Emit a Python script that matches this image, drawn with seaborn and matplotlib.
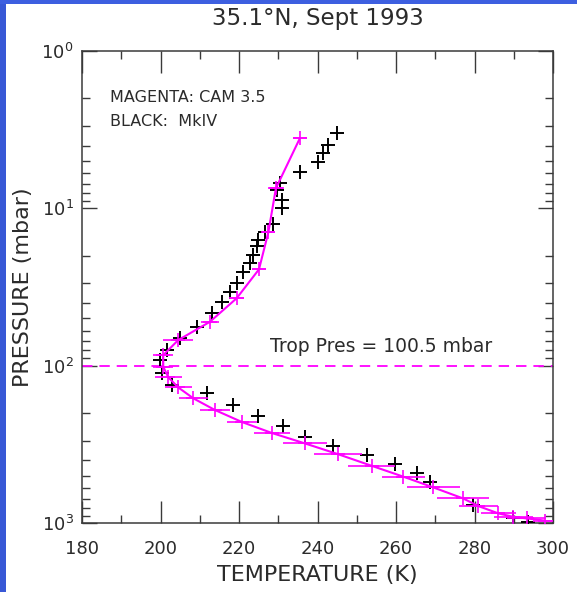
import numpy as np
import pandas as pd
import matplotlib
matplotlib.use("Agg")
import matplotlib.pyplot as plt
from matplotlib.patches import Rectangle
from matplotlib.ticker import LogLocator, MultipleLocator, NullFormatter
import seaborn as sns

# CAM 3.5 profile (magenta): temperature (K), pressure (mbar), half-width of horizontal bar (K)
cam_T = [235.5, 229.4, 227.5, 225.1, 219.4, 212.6, 204.5, 200.7, 200.7, 202.0, 204.5, 208.4,
         213.9, 220.8, 228.4, 236.8, 245.2, 253.8, 261.9, 269.5, 277.1, 281.0, 286.1, 289.9,
         293.3, 298.0]
cam_P = [3.59, 7.46, 14.1, 24.4, 37.3, 52.6, 68.8, 85.7, 101.6, 118.7, 137.4, 161.5,
         191.5, 228.4, 268, 312, 365, 433, 508, 594, 698, 781, 869, 914,
         935, 966]
cam_err = [1.8, 2.0, 1.7, 1.9, 1.9, 2.3, 3.8, 2.6, 2.6, 3.4, 3.4, 3.8,
           3.8, 3.8, 4.7, 5.5, 6.2, 6.0, 5.5, 6.8, 6.6, 5.0, 4.5, 5.0,
           5.0, 3.0]

# MkIV balloon profile (black)
mk_T = [244.9, 242.8, 241.5, 240.2, 235.5, 230.4, 229.6, 230.9, 230.9, 228.7, 226.6, 224.9,
        224.5, 223.6, 222.8, 221.1, 219.4, 217.7, 215.6, 213.0, 209.2, 205.0, 201.6, 199.9,
        200.3, 202.9, 211.8, 218.5, 224.9, 231.3, 236.8, 244.0, 252.6, 259.7, 265.3, 268.7,
        279.7, 289.9, 293.7]
mk_P = [3.34, 3.96, 4.47, 5.06, 5.85, 6.94, 7.65, 8.85, 10.0, 12.5, 14.1, 15.9,
        17.4, 19.8, 22.4, 25.3, 30.0, 33.9, 39.2, 46.5, 56.6, 67.1, 79.6, 92.1,
        112, 133, 150, 179, 209, 242, 283, 324, 370, 423, 484, 547,
        769, 935, 983]

trop_pres = 100.5
x_ticks = [180, 200, 220, 240, 260, 280, 300]

title = "35.1°N, Sept 1993"
xlabel = "TEMPERATURE (K)"
ylabel = "PRESSURE (mbar)"
legend_lines = ["MAGENTA: CAM 3.5", "BLACK:  MkIV"]
trop_text = f"Trop Pres = {trop_pres} mbar"

MAG = "#ff00ff"
TXT = "#2b2b2b"

sns.set_theme(style="ticks")
plt.rcParams["font.family"] = ["DejaVu Sans"]
plt.rcParams["lines.scale_dashes"] = False

W, H = 577, 592
fig = plt.figure(figsize=(W / 100, H / 100), dpi=100)
fig.patch.set_facecolor("white")

left, right, top, bottom = 82, 553, 51, 523
ax = fig.add_axes([left / W, 1 - bottom / H, (right - left) / W, (bottom - top) / H])
ax.set_facecolor("white")

cam = pd.DataFrame({"T": cam_T, "P": cam_P, "err": cam_err})
mk = pd.DataFrame({"T": mk_T, "P": mk_P})

# dashed tropopause line
ax.axhline(trop_pres, color=MAG, lw=1.3, ls=(0, (7.5, 5.0)), zorder=1)

# black MkIV crosses
sns.scatterplot(data=mk, x="T", y="P", marker="+", s=110, color="black",
                linewidth=1.4, ax=ax, zorder=3, legend=False)

# magenta CAM line + bars
ax.errorbar(cam["T"], cam["P"], xerr=cam["err"], fmt="none", ecolor=MAG,
            elinewidth=1.2, capsize=0, zorder=4)
sns.lineplot(data=cam, x="T", y="P", sort=False, estimator=None, color=MAG,
             lw=1.5, marker="+", markersize=10, markeredgewidth=1.2,
             markeredgecolor=MAG, ax=ax, zorder=5, legend=False)

ax.set_yscale("log")
ax.set_ylim(1000, 1)
ax.set_xlim(180, 300)
ax.set_xticks(x_ticks)
ax.xaxis.set_minor_locator(MultipleLocator(10))
ax.yaxis.set_major_locator(LogLocator(base=10, numticks=10))
ax.yaxis.set_minor_locator(LogLocator(base=10, subs=np.arange(2, 10), numticks=20))
ax.yaxis.set_minor_formatter(NullFormatter())

for s in ax.spines.values():
    s.set_visible(True)
    s.set_color("#3a3a3a")
    s.set_linewidth(1.1)

ax.tick_params(axis="x", which="major", direction="in", length=16, width=1.0,
               top=True, bottom=True, color="#3a3a3a", labelsize=13, labelcolor=TXT, pad=12)
ax.tick_params(axis="x", which="minor", direction="in", length=6, width=1.0,
               top=True, bottom=True, color="#3a3a3a")
ax.tick_params(axis="y", which="major", direction="in", length=11, width=1.0,
               left=True, right=True, color="#3a3a3a", labelsize=13, labelcolor=TXT, pad=6)
ax.tick_params(axis="y", which="minor", direction="in", length=6, width=1.0,
               left=True, right=True, color="#3a3a3a")

ax.set_xlabel(xlabel, fontsize=16, color=TXT, labelpad=5)
ax.set_ylabel(ylabel, fontsize=16, color=TXT)
ax.yaxis.set_label_coords(-0.105, 0.5)
ax.set_title(title, fontsize=16.5, color=TXT, pad=19)

def ax_frac(px, py):
    return (px - left) / (right - left), 1 - (py - top) / (bottom - top)

ax.text(*ax_frac(110, 97), legend_lines[0], transform=ax.transAxes,
        fontsize=11.5, color=TXT, va="center", ha="left")
ax.text(*ax_frac(110, 122), legend_lines[1], transform=ax.transAxes,
        fontsize=11.5, color=TXT, va="center", ha="left")
ax.text(*ax_frac(270, 346), trop_text, transform=ax.transAxes,
        fontsize=13.5, color=TXT, va="center", ha="left")

# blue frame strips (left and top)
fig.add_artist(Rectangle((0, 0), 6 / W, 1, transform=fig.transFigure,
                         facecolor="#3858d6", edgecolor="none", zorder=0))
fig.add_artist(Rectangle((0, 1 - 4 / H), 1, 4 / H, transform=fig.transFigure,
                         facecolor="#3d5fe0", edgecolor="none", zorder=0))

fig.savefig("out.png", dpi=100, facecolor="white")
